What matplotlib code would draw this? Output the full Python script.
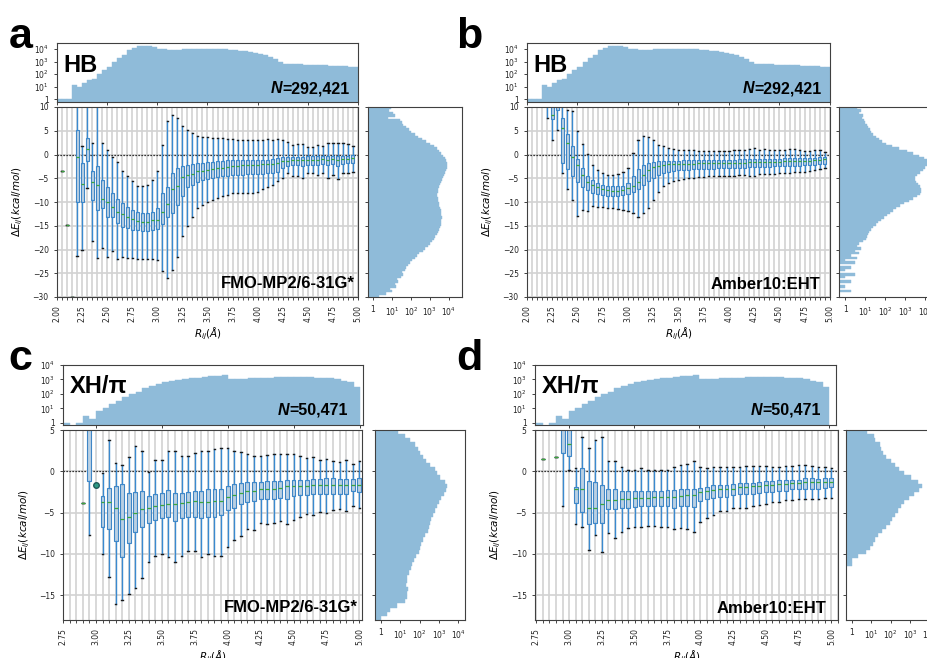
import numpy as np
import matplotlib
matplotlib.use('Agg')
import matplotlib.pyplot as plt
from matplotlib.ticker import (MultipleLocator, FormatStrFormatter, FuncFormatter, NullLocator,
                               NullFormatter, FixedLocator)

nan = np.nan

# === Distance histograms (counts per 0.05 A bin) ===
hb_bins = np.round(np.arange(2.00, 4.96, 0.05), 2)
hb_counts = [1, 1, 1, 13, 9, 18, 34, 39, 100, 220, 400, 850, 1900, 3500, 7900, 12000, 16600, 18700,
             16600, 13800, 10500, 9300, 9000, 9000, 9100, 9200, 9300, 9400, 9500, 9600, 9700, 9700,
             9500, 9200, 8700, 8100, 7500, 6800, 6000, 5200, 4300, 3400, 2500, 1600, 900, 680, 640,
             620, 600, 580, 560, 540, 520, 500, 480, 460, 440, 420, 400, 380]

xh_bins = np.round(np.arange(2.75, 4.96, 0.05), 2)
xh_counts = [1, 0, 1, 3, 2, 7, 10, 21, 33, 60, 95, 145, 245, 355, 515, 675, 790, 930, 1050, 1200,
             1340, 1490, 1660, 1830, 2050, 1050, 1100, 1150, 1200, 1250, 1300, 1350, 1380, 1400,
             1420, 1420, 1400, 1380, 1350, 1300, 1200, 1050, 850, 650, 320]

# === Box statistics per distance bin ===
hb_pos = np.round(np.arange(2.05, 4.96, 0.05), 2)
a_lo = [-3.45, -14.9, -29.9, -21.4, -20.1, -7.1, -18.2, -21.8, -19.6, -21.5, -20.3, -22.1, -21.5, -21.7,
        -21.7, -21.9, -21.9, -22.0, -22.1, -22.3, -24.5, -25.9, -24.4, -21.5, -17.2, -15.1, -13.1, -11.3,
        -10.6, -10.1, -9.6, -9.1, -8.7, -8.5, -8.2, -8.2, -8.1, -8.0, -8.2, -7.8, -7.3, -6.8, -6.4, -5.6,
        -5.0, -3.9, -4.5, -4.6, -4.9, -3.8, -3.8, -4.3, -3.9, -4.9, -4.3, -5.2, -3.9, -3.8, -3.6]
a_q1 = [-3.45, -14.9, -29.9, -9.9, -9.9, -1.3, -9.6, -11.7, -11.3, -13.2, -13.2, -14.5, -15.2, -15.4,
        -15.8, -15.9, -16.1, -16.1, -15.9, -15.6, -14.6, -13.1, -12.3, -10.6, -8.7, -6.9, -6.4, -5.7,
        -5.35, -5.2, -5.0, -4.8, -4.6, -4.5, -4.4, -4.3, -4.3, -4.2, -4.1, -4.1, -4.1, -3.9, -3.8, -3.6,
        -2.9, -2.5, -2.3, -2.3, -2.5, -2.2, -2.2, -2.2, -2.0, -2.2, -2.0, -2.5, -1.9, -1.7, -1.7]
a_med = [-3.45, -14.9, -29.9, -0.5, -6.2, 1.1, -5.7, -6.4, -9.4, -10.1, -11.0, -12.0, -12.5, -13.2,
         -13.5, -14.0, -14.2, -14.2, -13.8, -13.7, -12.2, -10.4, -7.3, -6.6, -4.8, -4.3, -4.1, -3.5,
         -3.4, -3.2, -3.0, -2.9, -2.75, -2.55, -2.5, -2.4, -2.3, -2.25, -2.2, -2.2, -2.1, -2.0, -2.0,
         -1.7, -1.3, -1.3, -1.1, -1.1, -1.1, -1.1, -1.1, -1.1, -1.0, -1.1, -1.0, -1.1, -0.9, -0.9, -0.7]
a_q3 = [-3.45, -14.9, -29.9, 5.1, -1.7, 3.45, -3.45, -2.4, -5.35, -6.9, -8.2, -9.4, -10.3, -11.1,
        -11.7, -12.0, -12.4, -12.4, -12.2, -11.3, -8.0, -6.9, -3.9, -2.9, -2.5, -2.2, -2.0, -1.8, -1.7,
        -1.55, -1.5, -1.4, -1.3, -1.25, -1.25, -1.25, -1.2, -1.2, -1.2, -1.1, -1.1, -1.1, -1.0, -0.8,
        -0.6, -0.6, -0.5, -0.5, -0.5, -0.4, -0.4, -0.4, -0.4, -0.4, -0.4, -0.4, -0.3, -0.3, -0.15]
a_hi = [-3.45, -14.9, -29.9, 14.0, 1.7, 14.0, 2.5, 14.0, 2.4, 1.0, -0.6, -1.5, -3.4, -4.5, -5.6, -6.6,
        -6.6, -6.4, -5.4, -3.4, 2.0, 7.0, 8.4, 7.7, 6.1, 5.2, 4.5, 3.9, 3.7, 3.6, 3.5, 3.5, 3.4, 3.2,
        3.2, 3.1, 3.1, 3.0, 3.0, 3.1, 3.0, 3.2, 3.1, 3.2, 3.0, 2.7, 2.0, 2.3, 2.2, 1.5, 1.5, 2.0, 1.8,
        2.4, 2.4, 2.4, 2.4, 2.2, 1.8]

b_lo = [15, 22, 12.5, 7.7, 3.0, 5.2, -3.9, -7.3, -9.6, -12.9, -11.7, -11.9, -10.8, -11.0, -11.1, -11.3,
        -11.3, -11.5, -11.7, -11.8, -12.4, -13.2, -12.4, -11.3, -9.6, -7.8, -6.6, -5.9, -5.6, -5.4, -5.2,
        -5.0, -4.9, -4.8, -4.7, -4.6, -4.6, -4.5, -4.5, -4.5, -4.5, -4.4, -4.4, -4.5, -4.5, -4.2, -4.1,
        -4.0, -4.0, -3.9, -3.8, -3.8, -3.7, -3.7, -3.6, -3.5, -3.3, -3.0, -2.9]
b_q1 = [15, 22, 12.5, 12, 7.5, 9.3, -1.7, -3.1, -4.6, -5.8, -6.8, -7.5, -8.2, -8.3, -8.5, -8.7, -8.8,
        -8.8, -8.6, -8.3, -7.8, -7.3, -6.4, -5.6, -5.0, -4.3, -3.9, -3.6, -3.4, -3.3, -3.2, -3.2, -3.1,
        -3.1, -3.0, -3.0, -3.0, -2.9, -2.9, -2.9, -2.8, -2.8, -2.8, -2.7, -2.7, -2.6, -2.6, -2.6, -2.5,
        -2.5, -2.5, -2.4, -2.4, -2.4, -2.3, -2.3, -2.2, -2.1, -1.9]
b_med = [15, 22, 12.5, 20, 8.4, 11, 5.6, 2.4, -0.6, -2.3, -4.3, -5.7, -6.4, -6.9, -7.3, -7.5, -7.6,
         -7.6, -7.5, -7.1, -6.6, -5.7, -4.3, -3.2, -2.7, -2.5, -2.3, -2.1, -2.05, -2.0, -1.95, -1.9,
         -1.9, -1.85, -1.85, -1.8, -1.8, -1.8, -1.8, -1.8, -1.75, -1.7, -1.7, -1.6, -1.55, -1.5, -1.5,
         -1.5, -1.5, -1.5, -1.45, -1.4, -1.4, -1.35, -1.3, -1.3, -1.2, -1.1, -1.0]
b_q3 = [15, 22, 12.5, 30, 11, 13, 7.7, 4.4, 1.7, -1.0, -2.9, -4.5, -5.4, -5.9, -6.4, -6.6, -6.7, -6.7,
        -6.6, -6.1, -4.6, -3.1, -2.2, -1.7, -1.5, -1.35, -1.3, -1.3, -1.3, -1.3, -1.25, -1.25, -1.2,
        -1.2, -1.2, -1.15, -1.15, -1.1, -1.1, -1.1, -1.1, -1.05, -1.0, -1.0, -0.95, -0.9, -0.9, -0.9,
        -0.85, -0.85, -0.8, -0.8, -0.8, -0.75, -0.75, -0.7, -0.65, -0.6, -0.5]
b_hi = [15, 22, 12.5, 40, 16, 17, 11, 9.3, 9.2, 4.9, 2.3, 0.1, -2.3, -3.2, -3.9, -4.3, -4.3, -4.1, -3.6,
        -2.9, 0.3, 3.0, 3.8, 3.7, 3.0, 2.0, 1.7, 1.3, 1.1, 1.0, 0.9, 0.85, 0.85, 0.8, 0.8, 0.8, 0.8, 0.8,
        0.8, 0.8, 0.9, 1.0, 1.0, 1.2, 1.3, 1.0, 1.1, 1.0, 0.9, 1.0, 0.9, 1.1, 1.2, 1.0, 0.8, 0.7, 1.0,
        0.9, 0.6]

xh_pos = np.round(np.arange(2.80, 5.001, 0.05), 2)
c_lo = [nan, nan, -3.8, -7.7, 6.0, -10.0, -12.8, -16.1, -15.6, -14.9, -14.1, -12.9, -11.0, -10.3, -10.0,
        -10.4, -11.0, -10.2, -9.7, -9.7, -10.4, -10.0, -10.2, -10.3, -9.2, -8.3, -7.8, -7.0, -7.1, -6.2,
        -6.4, -6.2, -6.0, -6.4, -5.9, -5.5, -5.2, -5.3, -4.9, -5.1, -4.7, -4.6, -4.8, -4.2, -4.4]
c_q1 = [nan, nan, -3.8, -1.2, 6.5, -6.7, -7.0, -8.4, -10.4, -8.7, -7.3, -6.8, -6.2, -5.9, -5.7, -5.5,
        -6.0, -5.7, -5.5, -5.5, -5.6, -5.5, -5.5, -5.3, -4.7, -4.4, -3.9, -3.7, -3.6, -3.4, -3.3, -3.3,
        -3.2, -3.3, -3.0, -2.9, -2.9, -2.8, -2.8, -2.7, -2.7, -2.7, -2.7, -2.35, -2.5]
c_med = [nan, nan, -3.8, 6.0, 7.0, -3.7, -3.7, -4.4, -5.8, -5.5, -5.0, -4.6, -4.5, -4.2, -4.1, -4.0,
         -4.0, -3.8, -3.7, -3.6, -3.7, -3.7, -3.6, -3.6, -3.1, -2.9, -2.6, -2.35, -2.35, -2.1, -2.1,
         -2.1, -2.0, -1.8, -1.8, -1.8, -1.8, -1.7, -1.7, -1.7, -1.7, -1.7, -1.7, -1.6, -1.7]
c_q3 = [nan, nan, -3.8, 7.0, 7.5, -3.0, -2.0, -1.8, -1.5, -2.6, -2.5, -2.4, -3.0, -2.8, -2.6, -2.3,
        -2.6, -2.6, -2.5, -2.4, -2.4, -2.15, -2.2, -2.1, -1.8, -1.5, -1.4, -1.3, -1.3, -1.3, -1.2, -1.2,
        -1.15, -1.05, -1.0, -1.0, -1.0, -0.95, -0.95, -0.85, -0.85, -0.95, -0.95, -0.9, -0.85]
c_hi = [nan, nan, -3.8, 9.0, 8.0, -0.25, 3.8, 1.0, 0.75, 1.7, 3.1, 2.4, -0.05, 1.4, 1.4, 2.4, 2.4, 1.9,
        1.85, 2.2, 2.45, 2.5, 2.65, 2.8, 2.8, 2.4, 2.3, 2.05, 1.8, 1.85, 2.0, 2.05, 2.05, 2.1, 2.1,
        1.85, 1.6, 1.7, 1.4, 1.45, 1.2, 1.1, 1.4, 0.9, 1.2]
c_flier_pos = [3.00]
c_flier_val = [-1.6]

d_lo = [1.45, nan, 1.7, -4.2, 0.2, -6.4, -6.8, -9.5, -7.7, -9.8, -7.5, -8.1, -7.3, -6.9, -6.8, -6.7,
        -6.6, -6.6, -6.7, -6.7, -7.0, -6.9, -7.0, -7.3, -6.1, -5.6, -5.3, -4.8, -4.8, -4.5, -4.5, -4.4,
        -4.2, -4.1, -3.9, -3.7, -3.7, -3.5, -3.5, -3.4, -3.4, -3.4, -3.3, -3.2, -3.2]
d_q1 = [1.45, nan, 1.7, 2.25, 1.8, -3.8, -4.9, -6.4, -6.3, -6.2, -4.6, -4.6, -4.5, -4.4, -4.3, -4.2,
        -4.2, -4.2, -4.2, -4.2, -4.4, -4.2, -4.2, -4.3, -3.6, -3.4, -3.2, -3.1, -3.1, -2.9, -2.8, -2.7,
        -2.7, -2.6, -2.5, -2.5, -2.4, -2.4, -2.2, -2.2, -2.1, -2.1, -2.1, -2.0, -1.9]
d_med = [1.45, nan, 1.7, 6.0, 3.3, -2.1, -2.1, -4.4, -4.4, -4.0, -3.5, -3.5, -3.3, -3.3, -3.25, -3.2,
         -3.2, -3.15, -3.15, -3.15, -3.1, -3.0, -2.9, -2.9, -2.5, -2.4, -2.3, -2.2, -2.15, -2.1, -1.9,
         -1.9, -1.8, -1.8, -1.7, -1.7, -1.55, -1.55, -1.4, -1.4, -1.3, -1.3, -1.3, -1.25, -1.25]
d_q3 = [1.45, nan, 1.7, 7.0, 6.0, -1.9, 0.35, -1.2, -1.3, -1.7, -2.2, -2.2, -2.35, -2.4, -2.4, -2.4,
        -2.4, -2.4, -2.4, -2.3, -2.3, -2.2, -2.2, -2.1, -2.0, -1.9, -1.7, -1.6, -1.6, -1.5, -1.4, -1.4,
        -1.4, -1.3, -1.15, -1.15, -1.1, -1.1, -1.0, -1.0, -0.85, -0.85, -0.95, -0.85, -0.85]
d_hi = [1.45, nan, 1.7, 9.0, 8.0, 0.4, 4.1, 2.8, 3.8, 4.2, 1.2, 1.3, 0.5, 0.15, 0.1, 0.35, 0.1, 0.2,
        0.2, 0.2, 0.55, 0.75, 0.9, 1.2, 0.55, 0.35, 0.55, 0.5, 0.5, 0.55, 0.55, 0.65, 0.65, 0.7, 0.65,
        0.55, 0.55, 0.65, 0.65, 0.75, 0.75, 0.65, 0.55, 0.55, 0.35]

# === Energy histograms (counts per 0.5 kcal/mol bin) ===
hb_ebins = np.arange(-30.0, 10.0, 0.5)
a_side = [2, 5, 10, 8, 17, 14, 22, 19, 30, 38, 32, 48, 56, 71, 89, 112, 158, 209, 282, 417,
          562, 759, 1000, 1259, 1585, 1905, 2291, 2630, 2951, 3311, 3631, 3802, 3981, 4169, 3981, 3802,
          3631, 3311, 3090, 2884, 2692, 2570, 2512, 2512, 2630, 2818, 3020, 3311, 3715, 4169, 4786,
          5495, 6310, 7079, 7586, 7943, 7586, 7079, 6026, 5012, 3981, 3020, 2239, 1585, 1000, 603, 380,
          240, 158, 105, 76, 52, 40, 32, 26, 6, 14, 11, 7, 9]
b_side = [0, 0, 2, 0, 1, 0, 2, 0, 1, 3, 0, 1, 2, 0, 3, 1, 4, 2, 5, 3,
          6, 4, 5, 8, 11, 12, 14, 16, 19, 25, 34, 45, 60, 85, 120, 170, 240, 350, 550, 900,
          1500, 2500, 4000, 5300, 6300, 6300, 5600, 4600, 3600, 3200, 3300, 4000, 5300, 7500, 10500,
          13000, 14000, 12500, 8500, 4800, 2600, 1300, 500, 220, 110, 70, 50, 35, 24, 20,
          17, 14, 12, 10, 9, 7, 8, 5, 6, 4]
xh_ebins = np.arange(-18.0, 5.0, 0.5)
c_side = [1, 2, 3, 7, 18, 22, 24, 26, 20, 22, 24, 30, 35, 42, 50, 63, 89, 112, 126, 158, 200, 263,
          316, 355, 398, 479, 631, 794, 1000, 1318, 1778, 2399, 2692, 1995, 1202, 832, 603, 331, 224,
          158, 112, 83, 60, 33, 18, 8]
d_side = [0, 0, 0, 0, 0, 0, 0, 0, 0, 0, 0, 0, 0, 1, 1, 2, 5, 9, 12, 16, 22, 35, 56, 89, 112, 158,
          240, 331, 501, 891, 1585, 2818, 3981, 2512, 1122, 501, 282, 158, 100, 60, 40, 32, 27, 16,
          13, 6]

# === Style ===
HIST = '#8fbbd9'
BOX_FACE = '#b9d0e3'
BOX_EDGE = '#3f86c6'
WHISK = '#3a8ad0'
MED = '#3ca63c'
GRID = '#d2d2d2'
SPINE = '#404040'
TICK_FS = 5.5
LAB_FS = 7.5
BOLD = dict(family='Liberation Sans', weight='bold')
DECADES = [1, 10, 100, 1000, 10000]

W, H = 928, 658
fig = plt.figure(figsize=(W / 100, H / 100), dpi=100)


def px_rect(x0, y0, x1, y1):
    return [x0 / W, 1 - y1 / H, (x1 - x0) / W, (y1 - y0) / H]


def log_label(v, _):
    if v <= 0:
        return ''
    e = int(round(np.log10(v)))
    return '1' if e == 0 else r'$10^{%d}$' % e


def style_spines(ax):
    for s in ax.spines.values():
        s.set_color(SPINE)
        s.set_linewidth(0.8)
    ax.tick_params(labelsize=TICK_FS, width=0.6, length=2.5, colors='#222222')


def top_hist(rect, bins, counts, xlim, ylim, tag, n_text, tag_xy, n_xy):
    ax = fig.add_axes(rect)
    ax.bar(bins, counts, width=0.05, align='edge', color=HIST, edgecolor=HIST, linewidth=0.3)
    ax.set_yscale('log')
    ax.set_xlim(*xlim)
    ax.set_ylim(*ylim)
    ax.xaxis.set_major_locator(MultipleLocator(0.5))
    ax.xaxis.set_major_formatter(NullFormatter())
    ax.yaxis.set_major_locator(FixedLocator(DECADES))
    ax.yaxis.set_major_formatter(FuncFormatter(log_label))
    ax.yaxis.set_minor_locator(NullLocator())
    style_spines(ax)
    ax.text(tag_xy[0], tag_xy[1], tag, transform=ax.transAxes, fontsize=17, ha='left',
            va='baseline', **BOLD)
    num = ax.text(n_xy[0], n_xy[1], n_text, transform=ax.transAxes, fontsize=11.5, ha='right',
                  va='baseline', **BOLD)
    fig.canvas.draw()
    bb = num.get_window_extent(renderer=fig.canvas.get_renderer())
    x_left = ax.transAxes.inverted().transform((bb.x0, bb.y0))[0]
    ax.text(x_left, n_xy[1], 'N', transform=ax.transAxes, fontsize=11.5, ha='right', va='baseline',
            family='Liberation Sans', weight='bold', style='italic')
    return ax


def main_box(rect, pos, lo, q1, med, q3, hi, xlim, ylim, ystep, method, m_xy,
             flier_pos=(), flier_val=()):
    ax = fig.add_axes(rect)
    stats, where = [], []
    for p, a, b, c, d, e in zip(pos, lo, q1, med, q3, hi):
        if np.isnan(c):
            continue
        fl = [v for fp, v in zip(flier_pos, flier_val) if abs(fp - p) < 1e-6]
        stats.append(dict(whislo=a, q1=b, med=c, q3=d, whishi=e, fliers=fl))
        where.append(p)
    ax.axhline(0, color='black', linestyle=(0, (1, 1.4)), linewidth=0.9, zorder=1.5)
    ax.bxp(stats, positions=where, widths=0.03, capwidths=0.012, patch_artist=True,
           showfliers=True, manage_ticks=False,
           boxprops=dict(facecolor=BOX_FACE, edgecolor=BOX_EDGE, linewidth=0.8),
           whiskerprops=dict(color=WHISK, linewidth=1.0),
           capprops=dict(color='#1a1a1a', linewidth=1.0),
           medianprops=dict(color=MED, linewidth=0.9),
           flierprops=dict(marker='o', markerfacecolor='#2e9a84', markeredgecolor='#1f5a58',
                           markersize=4))
    ax.set_xlim(*xlim)
    ax.set_ylim(*ylim)
    ax.xaxis.set_major_locator(MultipleLocator(0.25))
    ax.xaxis.set_minor_locator(MultipleLocator(0.05))
    ax.xaxis.set_major_formatter(FormatStrFormatter('%.2f'))
    ax.yaxis.set_major_locator(MultipleLocator(ystep))
    ax.set_axisbelow(True)
    ax.grid(True, which='both', axis='x', color=GRID, linewidth=1.2)
    ax.grid(True, which='major', axis='y', color=GRID, linewidth=1.2)
    style_spines(ax)
    ax.tick_params(axis='x', which='minor', length=1.8, width=0.5)
    plt.setp(ax.get_xticklabels(), rotation=90)
    ax.set_ylabel(r'$\Delta E_{ij}(kcal/mol)$', fontsize=LAB_FS)
    ax.yaxis.set_label_coords(-0.105, 0.5)
    ax.set_xlabel(r'$R_{ij}(\AA)$', fontsize=LAB_FS, labelpad=2)
    ax.text(m_xy[0], m_xy[1], method, transform=ax.transAxes, fontsize=12, ha='right',
            va='baseline', **BOLD)
    return ax


def side_hist(rect, ebins, counts, ylim, xlim, ystep):
    ax = fig.add_axes(rect)
    ax.barh(ebins, counts, height=0.5, align='edge', color=HIST, edgecolor=HIST, linewidth=0.3)
    ax.set_xscale('log')
    ax.set_xlim(*xlim)
    ax.set_ylim(*ylim)
    ax.xaxis.set_major_locator(FixedLocator(DECADES))
    ax.xaxis.set_major_formatter(FuncFormatter(log_label))
    ax.xaxis.set_minor_locator(NullLocator())
    ax.yaxis.set_major_locator(MultipleLocator(ystep))
    ax.yaxis.set_major_formatter(NullFormatter())
    style_spines(ax)
    return ax


# === Panel a ===
top_hist(px_rect(57, 43, 358, 102), hb_bins, hb_counts, (2.0, 5.0), (0.6, 3e4), 'HB',
         '=292,421', (0.02, 0.5), (0.973, 0.15))
main_box(px_rect(57, 107, 358, 297), hb_pos, a_lo, a_q1, a_med, a_q3, a_hi, (2.0, 5.0), (-30, 10), 5,
         'FMO-MP2/6-31G*', (0.99, 0.047))
side_hist(px_rect(368, 107, 462, 297), hb_ebins, a_side, (-30, 10), (0.55, 4.9e4), 5)

# === Panel b ===
top_hist(px_rect(527, 43, 830, 102), hb_bins, hb_counts, (2.0, 5.0), (0.6, 3e4), 'HB',
         '=292,421', (0.02, 0.5), (0.973, 0.15))
main_box(px_rect(527, 107, 830, 297), hb_pos, b_lo, b_q1, b_med, b_q3, b_hi, (2.0, 5.0), (-30, 10), 5,
         'Amber10:EHT', (0.967, 0.042))
side_hist(px_rect(839, 107, 933, 297), hb_ebins, b_side, (-30, 10), (0.49, 2.5e4), 5)

# === Panel c ===
top_hist(px_rect(63, 365, 363, 425), xh_bins, xh_counts, (2.75, 5.02), (0.72, 1.0e4), 'XH/π',
         '=50,471', (0.023, 0.54), (0.95, 0.17))
main_box(px_rect(63, 430, 362, 620), xh_pos, c_lo, c_q1, c_med, c_q3, c_hi, (2.75, 5.02), (-18, 5), 5,
         'FMO-MP2/6-31G*', (0.987, 0.044), c_flier_pos, c_flier_val)
side_hist(px_rect(375, 430, 465, 620), xh_ebins, c_side, (-18, 5), (0.51, 2.2e4), 5)

# === Panel d ===
top_hist(px_rect(535, 365, 836, 425), xh_bins, xh_counts, (2.74, 5.05), (0.72, 1.0e4), 'XH/π',
         '=50,471', (0.023, 0.54), (0.95, 0.17))
main_box(px_rect(535, 430, 838, 620), xh_pos, d_lo, d_q1, d_med, d_q3, d_hi, (2.74, 5.05), (-18, 5), 5,
         'Amber10:EHT', (0.963, 0.037))
side_hist(px_rect(846, 430, 940, 620), xh_ebins, d_side, (-18, 5), (0.49, 3.5e4), 5)

# === Panel letters ===
for letter, x, y in [('a', 9, 48), ('b', 456, 48), ('c', 8, 370), ('d', 456, 370)]:
    fig.text(x / W, 1 - y / H, letter, fontsize=31, ha='left', va='baseline', **BOLD)

fig.savefig('out.png', dpi=100)
